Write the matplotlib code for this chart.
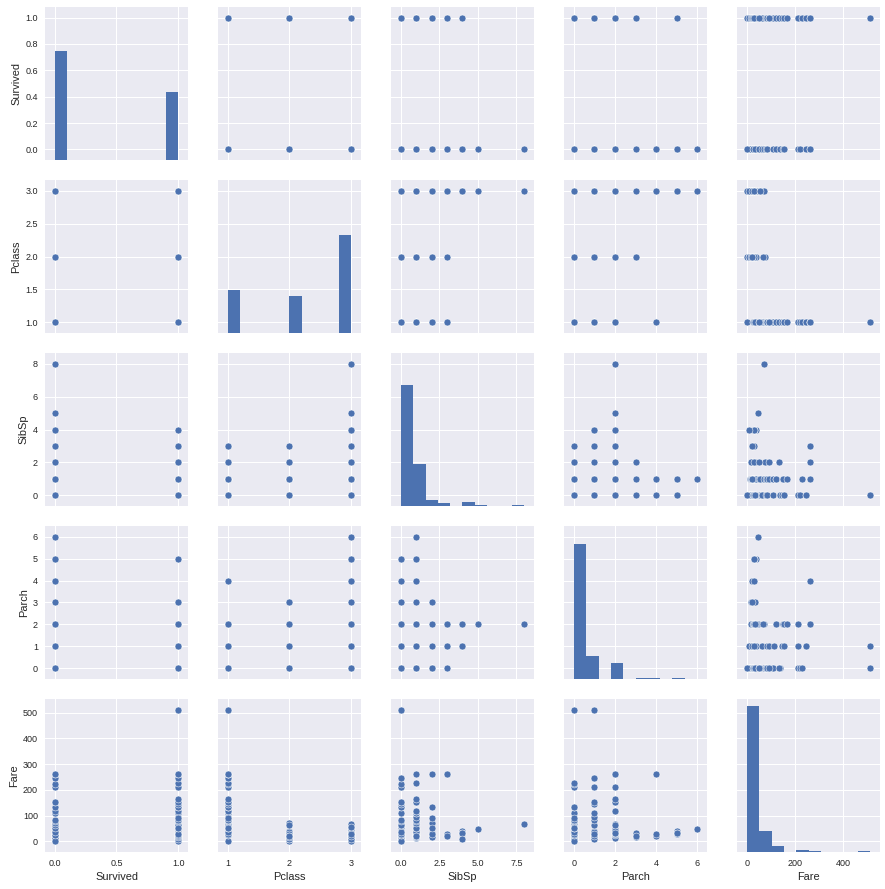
import numpy as np
import matplotlib
matplotlib.use('Agg')
import matplotlib.pyplot as plt

# passenger records (one row per distinct combination seen in the picture)
# lines: 3rd class (38), 2nd class (19), 1st class (44)
survived = ([0, 0, 0, 0, 1, 1, 0, 0, 1, 1, 0, 0, 1, 0, 0, 1, 0, 1, 1, 0,
             0, 0, 0, 0, 0, 0, 1, 0, 0, 0, 0, 0, 0, 1, 0, 0, 0, 0]
            + [0, 0, 0, 1, 1, 0, 1, 1, 1, 1, 1, 0, 1, 0, 0, 1, 1, 1, 1]
            + [0, 0, 1, 1, 0, 0, 1, 0, 1, 0, 1, 0, 1, 0, 1, 0, 0, 1, 1, 0,
               1, 0, 1, 0, 1, 1, 1, 0, 1, 1, 1, 1, 1, 0, 0, 1, 1, 0, 1, 1,
               0, 0, 1, 1])
pclass = [3] * 38 + [2] * 19 + [1] * 44
sibsp = ([0, 0, 0, 0, 0, 0, 0, 1, 1, 1, 1, 0, 0, 1, 2, 2, 2, 0, 0, 2,
          3, 3, 3, 4, 4, 4, 4, 4, 5, 8, 1, 0, 0, 1, 1, 0, 1, 0]
         + [0, 0, 0, 0, 0, 1, 1, 1, 0, 1, 0, 1, 2, 2, 0, 1, 3, 0, 1]
         + [0, 0, 0, 0, 0, 1, 1, 0, 0, 1, 1, 0, 0, 1, 1, 1, 0, 1, 1, 1,
            0, 0, 2, 1, 1, 0, 0, 0, 1, 2, 2, 0, 0, 0, 0, 1, 0, 0, 2, 3,
            3, 1, 0, 0])
parch = ([0, 0, 0, 0, 0, 0, 1, 0, 0, 1, 1, 2, 2, 2, 0, 0, 0, 0, 0, 3,
          1, 1, 2, 1, 1, 2, 2, 1, 2, 2, 6, 5, 5, 5, 5, 4, 4, 0]
         + [0, 0, 0, 0, 0, 0, 0, 1, 1, 2, 2, 1, 1, 0, 0, 2, 0, 3, 3]
         + [0, 0, 0, 0, 0, 0, 0, 1, 1, 0, 0, 0, 1, 0, 1, 1, 0, 0, 2, 2,
            0, 0, 0, 2, 2, 1, 2, 1, 2, 0, 0, 0, 2, 1, 0, 0, 1, 1, 2, 2,
            2, 4, 0, 1])
fare = ([0.0, 7.25, 8.05, 9.5, 7.75, 7.925, 12.475, 14.45, 15.5, 16.7,
         20.21, 22.36, 15.25, 24.15, 21.68, 23.25, 18.0, 56.5, 0.0, 34.375,
         21.075, 25.47, 27.9, 39.69, 29.125, 31.275, 31.39, 7.925, 46.9, 69.55,
         46.9, 39.69, 29.125, 31.275, 31.39, 21.075, 27.9, 56.5]
        + [0.0, 10.5, 13.0, 13.0, 10.5, 26.0, 26.0, 26.25, 23.0, 39.0,
           33.0, 36.75, 27.75, 73.5, 73.5, 65.0, 21.0, 18.75, 23.0]
        + [0.0, 26.55, 26.29, 30.5, 35.5, 52.0, 53.1, 61.98, 63.36, 71.28,
           78.85, 79.2, 83.16, 82.17, 93.5, 110.88, 108.9, 108.9, 120.0, 120.0,
           135.63, 135.63, 133.65, 151.55, 151.55, 146.52, 153.46, 153.46, 164.87, 51.48,
           90.0, 211.34, 211.5, 211.5, 221.78, 227.53, 247.52, 247.52, 262.375, 263.0,
           263.0, 263.0, 512.33, 512.33])

# histogram counts on the diagonal (10 equal bins between min and max)
survived_hist = [549, 0, 0, 0, 0, 0, 0, 0, 0, 342]
pclass_hist = [216, 0, 0, 0, 0, 184, 0, 0, 0, 491]
sibsp_hist = [608, 209, 28, 16, 0, 18, 5, 0, 0, 7]
parch_hist = [678, 118, 0, 80, 0, 5, 4, 0, 5, 1]
fare_hist = [732, 106, 31, 2, 11, 6, 0, 0, 0, 3]

names = ['Survived', 'Pclass', 'SibSp', 'Parch', 'Fare']
xticks = [[0.0, 0.5, 1.0], [1, 2, 3], [0.0, 2.5, 5.0, 7.5], [0, 2, 4, 6], [0, 200, 400]]
yticks = [[0.0, 0.2, 0.4, 0.6, 0.8, 1.0], [1.0, 1.5, 2.0, 2.5, 3.0], [0, 2, 4, 6, 8],
          [0, 1, 2, 3, 4, 5, 6], [0, 100, 200, 300, 400, 500]]

data = [np.array(v, dtype=float) for v in (survived, pclass, sibsp, parch, fare)]
hists = [survived_hist, pclass_hist, sibsp_hist, parch_hist, fare_hist]

blue = '#4C72B0'
plt.rcParams.update({
    'axes.facecolor': '#EAEAF2',
    'axes.edgecolor': 'white',
    'axes.grid': True,
    'axes.axisbelow': True,
    'grid.color': 'white',
    'grid.linewidth': 1.0,
    'xtick.major.size': 0,
    'ytick.major.size': 0,
    'xtick.major.pad': 7,
    'ytick.major.pad': 7,
    'xtick.labelsize': 9,
    'ytick.labelsize': 9,
    'axes.labelsize': 11,
    'text.color': '.15',
    'axes.labelcolor': '.15',
    'xtick.color': '.15',
    'ytick.color': '.15',
})
plt.rcParams['font.family'] = ['Liberation Sans', 'DejaVu Sans']

fig, axes = plt.subplots(5, 5, figsize=(885 / 72, 889 / 72), dpi=72,
                         sharex='col', sharey='row')
fig.subplots_adjust(left=45 / 885, right=880 / 885, top=1 - 7 / 889,
                    bottom=1 - 852 / 889, wspace=0.21, hspace=0.1307)

top = max(max(h) for h in hists) * 1.05

for i in range(5):
    for j in range(5):
        ax = axes[i, j]
        for s in ax.spines.values():
            s.set_visible(False)
        if i == j:
            edges = np.linspace(data[i].min(), data[i].max(), 11)
            tw = ax.twinx()
            tw.bar(edges[:-1], hists[i], width=np.diff(edges), align='edge',
                   color=blue, linewidth=0)
            tw.set_ylim(0, top)
            tw.set_yticks([])
            tw.grid(False)
            for s in tw.spines.values():
                s.set_visible(False)
        else:
            ax.scatter(data[j], data[i], s=48, color=blue, edgecolor='white',
                       linewidth=0.5, zorder=3)
        if i == 4:
            ax.set_xlabel(names[j])
        if j == 0:
            ax.set_ylabel(names[i])

for k in range(5):
    lo, hi = data[k].min(), data[k].max()
    pad = 0.08 * (hi - lo)
    axes[0, k].set_xlim(lo - pad, hi + pad)
    axes[0, k].set_xticks(xticks[k])
    axes[k, 0].set_ylim(lo - pad, hi + pad)
    axes[k, 0].set_yticks(yticks[k])

fig.savefig('out.png', dpi=72)
